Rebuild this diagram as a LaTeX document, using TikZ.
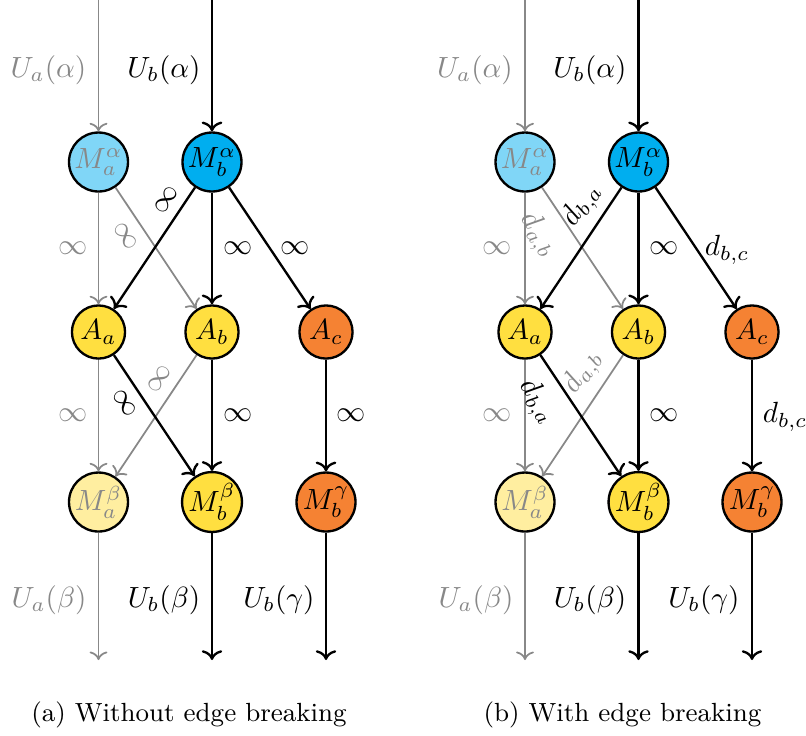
\documentclass[tikz,border=0pt]{standalone}
\usetikzlibrary{arrows.meta}
\definecolor{skyA}{HTML}{80D6F7}
\definecolor{skyB}{HTML}{00AEEF}
\definecolor{sunA}{HTML}{FFDF40}
\definecolor{sunB}{HTML}{FFEEA0}
\definecolor{amber}{HTML}{F58233}
\definecolor{faded}{HTML}{888888}
\tikzset{
  st/.style={circle, draw=black, line width=0.8pt, inner sep=0pt},
  mnode/.style={st, minimum size=20.2pt},
  anode/.style={st, minimum size=18.2pt},
  live/.style={->, line width=0.8pt, draw=black},
  dead/.style={->, line width=0.6pt, draw=faded},
  wt/.style={inner sep=0pt},
  wtg/.style={wt, text=faded},
}
\begin{document}
\begin{tikzpicture}[x=0.3425pt, y=-0.3425pt]
\useasboundingbox (0,0) rectangle (806,735);

% ---------- (a) without edge breaking ----------
\node[mnode, fill=skyA, text=faded] (LMaa) at (98.5,162) {$M_a^\alpha$};
\node[mnode, fill=skyB] (LMba) at (212,162) {$M_b^\alpha$};
\node[anode, fill=sunA] (LAa) at (98.5,332) {$A_a$};
\node[anode, fill=sunA] (LAb) at (212,332) {$A_b$};
\node[anode, fill=amber] (LAc) at (326,332) {$A_c$};
\node[mnode, fill=sunB, text=faded] (LMab) at (98.5,502) {$M_a^\beta$};
\node[mnode, fill=sunA] (LMbb) at (212,502) {$M_b^\beta$};
\node[mnode, fill=amber] (LMbg) at (326,502) {$M_b^\gamma$};

\coordinate (Lin1) at (98.5,0);
\coordinate (Lin2) at (212,0);
\coordinate (Lout1) at (98.5,660);
\coordinate (Lout2) at (212,660);
\coordinate (Lout3) at (326,660);

\draw[dead] (Lin1) -- (LMaa);
\draw[live] (Lin2) -- (LMba);
\draw[dead] (LMaa) -- (LAa);
\draw[dead] (LMaa) -- (LAb);
\draw[live] (LMba) -- (LAa);
\draw[live] (LMba) -- (LAb);
\draw[live] (LMba) -- (LAc);
\draw[dead] (LAa) -- (LMab);
\draw[dead] (LAb) -- (LMab);
\draw[live] (LAa) -- (LMbb);
\draw[live] (LAb) -- (LMbb);
\draw[live] (LAc) -- (LMbg);
\draw[dead] (LMab) -- (Lout1);
\draw[live] (LMbb) -- (Lout2);
\draw[live] (LMbg) -- (Lout3);

\node[wtg] at (48.5,70) {$U_a(\alpha)$};
\node[wt] at (164,70) {$U_b(\alpha)$};
\node[wtg] at (49,600) {$U_a(\beta)$};
\node[wt] at (164,600) {$U_b(\beta)$};
\node[wt] at (279,600) {$U_b(\gamma)$};

\node[wtg] at (73,248) {$\infty$};
\node[wtg, rotate=-56.3] at (126,236) {$\infty$};
\node[wt, rotate=56.3] at (166,200) {$\infty$};
\node[wt] at (238,248) {$\infty$};
\node[wt] at (295,248) {$\infty$};
\node[wtg] at (73,415) {$\infty$};
\node[wtg, rotate=56.3] at (159,379) {$\infty$};
\node[wt, rotate=-56.3] at (125,403) {$\infty$};
\node[wt] at (238,415) {$\infty$};
\node[wt] at (351,415) {$\infty$};

\node (capA) at (189,715) {\small (a) Without edge breaking};

% ---------- (b) with edge breaking ----------
\node[mnode, fill=skyA, text=faded] (RMaa) at (525,162) {$M_a^\alpha$};
\node[mnode, fill=skyB] (RMba) at (638.5,162) {$M_b^\alpha$};
\node[anode, fill=sunA] (RAa) at (525,332) {$A_a$};
\node[anode, fill=sunA] (RAb) at (638.5,332) {$A_b$};
\node[anode, fill=amber] (RAc) at (752,332) {$A_c$};
\node[mnode, fill=sunB, text=faded] (RMab) at (525,502) {$M_a^\beta$};
\node[mnode, fill=sunA] (RMbb) at (638.5,502) {$M_b^\beta$};
\node[mnode, fill=amber] (RMbg) at (752,502) {$M_b^\gamma$};

\coordinate (Rin1) at (525,0);
\coordinate (Rin2) at (638.5,0);
\coordinate (Rout1) at (525,660);
\coordinate (Rout2) at (638.5,660);
\coordinate (Rout3) at (752,660);

\draw[dead] (Rin1) -- (RMaa);
\draw[live] (Rin2) -- (RMba);
\draw[dead] (RMaa) -- (RAa);
\draw[dead] (RMaa) -- (RAb);
\draw[live] (RMba) -- (RAa);
\draw[live] (RMba) -- (RAb);
\draw[live] (RMba) -- (RAc);
\draw[dead] (RAa) -- (RMab);
\draw[dead] (RAb) -- (RMab);
\draw[live] (RAa) -- (RMbb);
\draw[live] (RAb) -- (RMbb);
\draw[live] (RAc) -- (RMbg);
\draw[dead] (RMab) -- (Rout1);
\draw[live] (RMbb) -- (Rout2);
\draw[live] (RMbg) -- (Rout3);

\node[wtg] at (475,70) {$U_a(\alpha)$};
\node[wt] at (590,70) {$U_b(\alpha)$};
\node[wtg] at (476,600) {$U_a(\beta)$};
\node[wt] at (590,600) {$U_b(\beta)$};
\node[wt] at (704,600) {$U_b(\gamma)$};

\node[wtg] at (497,248) {$\infty$};
\node[wtg, rotate=-56.3] at (538,235) {$d_{a,b}$};
\node[wt, rotate=56.3] at (582,205) {$d_{b,a}$};
\node[wt] at (664.5,248) {$\infty$};
\node[wt] at (727,250) {$d_{b,c}$};
\node[wtg] at (497,415) {$\infty$};
\node[wt, rotate=-56.3] at (537,402) {$d_{b,a}$};
\node[wtg, rotate=56.3] at (583,372) {$d_{a,b}$};
\node[wt] at (664.5,415) {$\infty$};
\node[wt] at (785,417) {$d_{b,c}$};

\node (capB) at (622.5,715) {\small (b) With edge breaking};
\end{tikzpicture}
\end{document}
